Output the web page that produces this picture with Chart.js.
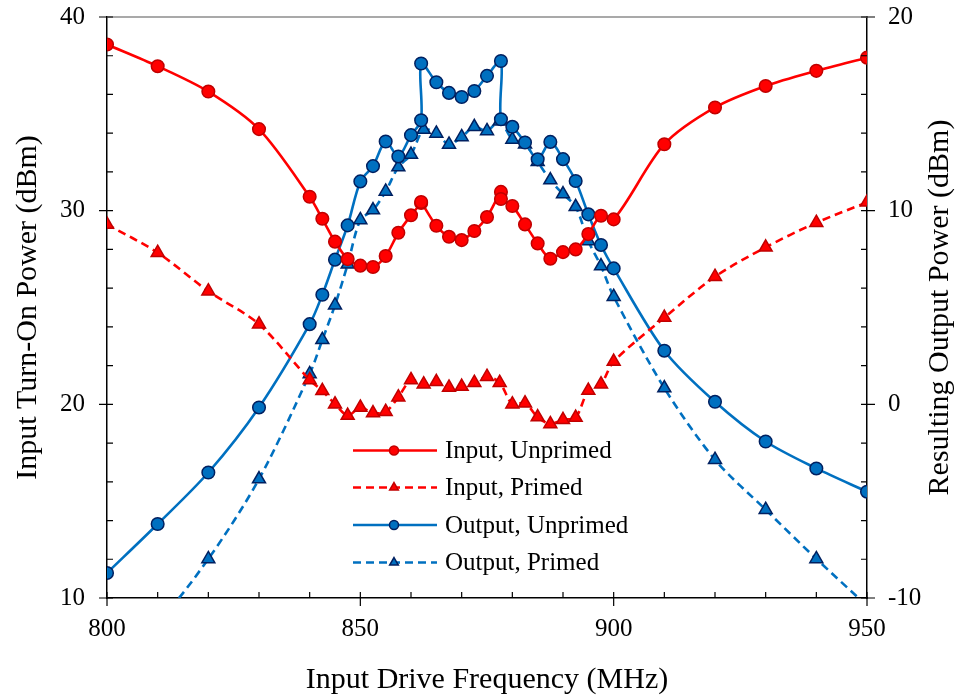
<!DOCTYPE html>
<html>
<head>
<meta charset="utf-8">
<script src="https://cdn.jsdelivr.net/npm/chart.js@4.4.1/dist/chart.umd.min.js"></script>
<style>
  html, body { margin: 0; padding: 0; background: #fff; }
  #wrap { width: 968px; height: 698px; }
</style>
</head>
<body>
<div id="wrap"><canvas id="freqChart" width="968" height="698"></canvas></div>
<script>
// frequencies (MHz) - unprimed runs have a jump at 862 and 877.75 (two readings each)
const freqUnprimed = [800, 810, 820, 830, 840, 842.5, 845, 847.5, 850, 852.5, 855, 857.5, 860, 862, 862,
  865, 867.5, 870, 872.5, 875, 877.75, 877.75, 880, 882.5, 885, 887.5, 890, 892.5, 895, 897.5, 900,
  910, 920, 930, 940, 950];
const freqPrimed = [800, 810, 820, 830, 840, 842.5, 845, 847.5, 850, 852.5, 855, 857.5, 860, 862.5,
  865, 867.5, 870, 872.5, 875, 877.5, 880, 882.5, 885, 887.5, 890, 892.5, 895, 897.5, 900,
  910, 920, 930, 940, 950];

// left axis: input turn-on power (dBm)
const inputUnprimed = [38.58, 37.46, 36.15, 34.21, 30.72, 29.58, 28.40, 27.50, 27.16, 27.09, 27.66, 28.86,
  29.76, 30.40, 30.45, 29.22, 28.65, 28.48, 28.95, 29.67, 30.97, 30.60, 30.24, 29.29, 28.31, 27.52, 27.86,
  28.00, 28.79, 29.74, 29.55, 33.43, 35.33, 36.44, 37.22, 37.90];
const inputPrimed = [29.29, 27.83, 25.84, 24.14, 21.26, 20.70, 20.01, 19.42, 19.84, 19.55, 19.62, 20.37,
  21.26, 21.04, 21.16, 20.87, 20.92, 21.12, 21.43, 21.12, 20.01, 20.06, 19.34, 18.99, 19.20, 19.32, 20.71,
  21.04, 22.21, 24.48, 26.59, 28.11, 29.38, 30.43];

// right axis: resulting output power (dBm)
const outputUnprimed = [-8.71, -6.18, -3.52, -0.16, 4.14, 5.66, 7.47, 9.24, 11.51, 12.30, 13.57, 12.80,
  13.90, 14.67, 17.60, 16.63, 16.08, 15.87, 16.18, 16.96, 17.73, 14.72, 14.33, 13.52, 12.65, 13.55, 12.66,
  11.53, 9.81, 8.23, 7.02, 2.77, 0.13, -1.92, -3.31, -4.51];
const outputPrimed = [-12.8, -11.2, -7.98, -3.86, 1.57, 3.33, 5.12, 7.23, 9.52, 10.03, 10.99, 12.25,
  12.90, 14.19, 13.99, 13.42, 13.81, 14.33, 14.12, 14.62, 13.68, 13.43, 12.52, 11.58, 10.86, 10.20, 8.43,
  7.14, 5.56, 0.84, -2.86, -5.44, -7.98, -10.4];

const seriesNames = ['Input, Unprimed', 'Input, Primed', 'Output, Unprimed', 'Output, Primed'];

const FONT = "'Liberation Serif', 'Times New Roman', serif";
const RED = '#ff0000', RED_EDGE = '#c00000';
const BLUE = '#0070c0', BLUE_EDGE = '#002060';

function toPoints(xs, ys) {
  return xs.map((x, i) => ({ x: x, y: ys[i] }));
}

function makeSet(label, xs, ys, axis, color, edge, style, dashed) {
  return {
    label: label,
    data: toPoints(xs, ys),
    yAxisID: axis,
    borderColor: color,
    backgroundColor: color,
    borderWidth: 2.6,
    borderDash: dashed ? [8, 5] : [],
    pointStyle: style,
    pointRadius: style === 'triangle' ? 7.5 : 6.3,
    pointBackgroundColor: color,
    pointBorderColor: edge,
    pointBorderWidth: 1.5,
    tension: 0.3
  };
}

// y axes: keep the label padding from pushing the plot down
function fixAxisWidth(w) {
  return function (scale) {
    scale.width = w;
    scale.paddingTop = 0;
    scale.paddingBottom = 0;
  };
}

// tick marks: majors cross the axis, minors sit inside
const tickPlugin = {
  id: 'ticks',
  afterDraw(chart) {
    const ctx = chart.ctx;
    const a = chart.chartArea;
    const x = chart.scales.x, yl = chart.scales.y, yr = chart.scales.y2;
    ctx.save();
    // top frame line
    ctx.strokeStyle = '#8c8c8c';
    ctx.lineWidth = 1.5;
    ctx.beginPath();
    ctx.moveTo(a.left, a.top);
    ctx.lineTo(a.right, a.top);
    ctx.stroke();

    ctx.strokeStyle = '#000';
    ctx.lineWidth = 1.2;
    ctx.beginPath();
    for (let v = 10; v <= 40; v += 2) {
      const py = yl.getPixelForValue(v);
      const major = v % 10 === 0;
      ctx.moveTo(a.left - (major ? 8 : 0), py);
      ctx.lineTo(a.left + 6, py);
    }
    for (let v = -10; v <= 20; v += 2) {
      const py = yr.getPixelForValue(v);
      const major = v % 10 === 0;
      ctx.moveTo(a.right - 6, py);
      ctx.lineTo(a.right + (major ? 8 : 0), py);
    }
    for (let v = 800; v <= 950; v += 10) {
      const px = x.getPixelForValue(v);
      const major = v % 50 === 0;
      ctx.moveTo(px, a.bottom - 6);
      ctx.lineTo(px, a.bottom + (major ? 8 : 0));
    }
    ctx.stroke();
    ctx.restore();
  }
};

// legend drawn like the spreadsheet one: line, marker in the middle, label
const legendPlugin = {
  id: 'lineLegend',
  afterDraw(chart) {
    const ctx = chart.ctx;
    const rows = [450.5, 487.5, 525, 562.5];
    ctx.save();
    chart.data.datasets.forEach((ds, i) => {
      const y = rows[i];
      ctx.strokeStyle = ds.borderColor;
      ctx.lineWidth = 2.5;
      ctx.setLineDash(ds.borderDash);
      ctx.beginPath();
      ctx.moveTo(353, y);
      ctx.lineTo(437, y);
      ctx.stroke();
      ctx.setLineDash([]);
      ctx.fillStyle = ds.pointBackgroundColor;
      ctx.strokeStyle = ds.pointBorderColor;
      ctx.lineWidth = 1.5;
      Chart.helpers.drawPoint(ctx, { pointStyle: ds.pointStyle, radius: ds.pointStyle === 'triangle' ? 5 : 4.5, borderWidth: 1.5 }, 394, y);
      ctx.fillStyle = '#000';
      ctx.font = '25px ' + FONT;
      ctx.textBaseline = 'middle';
      ctx.fillText(ds.label, 445, y + 1);
    });
    // right axis title reads bottom to top
    const a = chart.chartArea;
    ctx.translate(940, (a.top + a.bottom) / 2);
    ctx.rotate(-Math.PI / 2);
    ctx.textAlign = 'center';
    ctx.textBaseline = 'middle';
    ctx.font = '30px ' + FONT;
    ctx.fillText('Resulting Output Power (dBm)', 0, 0);
    ctx.restore();
  }
};

const ctx = document.getElementById('freqChart').getContext('2d');
const freqChart = new Chart(ctx, {
  type: 'line',
  data: {
    datasets: [
      makeSet(seriesNames[0], freqUnprimed, inputUnprimed, 'y', RED, RED_EDGE, 'circle', false),
      makeSet(seriesNames[1], freqPrimed, inputPrimed, 'y', RED, RED_EDGE, 'triangle', true),
      makeSet(seriesNames[2], freqUnprimed, outputUnprimed, 'y2', BLUE, BLUE_EDGE, 'circle', false),
      makeSet(seriesNames[3], freqPrimed, outputPrimed, 'y2', BLUE, BLUE_EDGE, 'triangle', true)
    ]
  },
  options: {
    responsive: false,
    animation: false,
    layout: { padding: { top: 17, left: 0, right: 0, bottom: 0 } },
    plugins: {
      legend: { display: false },
      tooltip: { enabled: false }
    },
    scales: {
      x: {
        type: 'linear',
        min: 800,
        max: 950,
        ticks: { stepSize: 50, color: '#000', font: { family: FONT, size: 25 }, padding: 16 },
        grid: { display: false, drawTicks: false },
        border: { display: true, color: '#000', width: 1.5 },
        title: { display: true, text: 'Input Drive Frequency (MHz)', color: '#000', font: { family: FONT, size: 30 }, padding: 0 },
        afterFit(scale) { scale.height = 100; }
      },
      y: {
        position: 'left',
        min: 10,
        max: 40,
        ticks: { stepSize: 10, color: '#000', font: { family: FONT, size: 25 }, padding: 22 },
        grid: { display: false, drawTicks: false },
        border: { display: true, color: '#000', width: 1.5 },
        title: { display: true, text: 'Input Turn-On Power (dBm)', color: '#000', font: { family: FONT, size: 30 }, padding: { top: 10, bottom: 0 } },
        afterFit: fixAxisWidth(107)
      },
      y2: {
        position: 'right',
        min: -10,
        max: 20,
        ticks: { stepSize: 10, color: '#000', font: { family: FONT, size: 25 }, padding: 21 },
        grid: { display: false, drawTicks: false },
        border: { display: true, color: '#000', width: 1.5 },
        afterFit: fixAxisWidth(101)
      }
    }
  },
  plugins: [tickPlugin, legendPlugin]
});
</script>
</body>
</html>
